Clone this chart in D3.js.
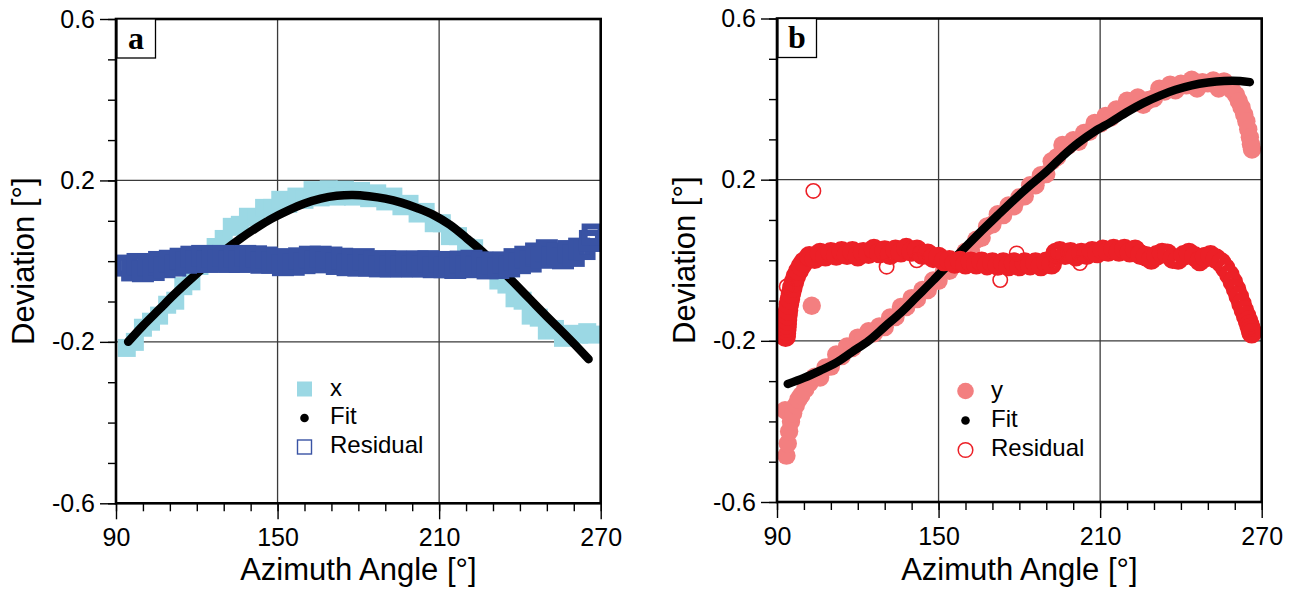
<!DOCTYPE html>
<html><head><meta charset="utf-8">
<script src="https://cdn.jsdelivr.net/npm/d3@7"></script>
<style>body{margin:0;background:#fff}svg{display:block}</style>
</head><body>
<svg id="chart" width="1298" height="589"></svg>
<script>
// ---------- axis definitions ----------
const xTicks = [90, 150, 210, 270];
const xMinorTicks = [90,100,110,120,130,140,150,160,170,180,190,200,210,220,230,240,250,260,270];
const yTicks = [0.6, 0.2, -0.2, -0.6];
const yTickLabels = ["0.6", "0.2", "-0.2", "-0.6"];
const yMinorTicks = [0.6,0.5,0.4,0.3,0.2,0.1,0,-0.1,-0.2,-0.3,-0.4,-0.5,-0.6];
const xGrid = [150, 210];
const yGrid = [0.2, -0.2];
const xTitle = "Azimuth Angle [°]";
const yTitle = "Deviation [°]";

// ---------- panel a ----------
const aXAngle = [94,97,100,103,106,109,112,115,118,121,124,127,130,133,136,139,142,145,148,151,154,157,160,163,166,169,172,175,178,181,184,187,190,193,196,199,202,205,208,211,214,217,220,223,226,229,232,235,238,241,244,247,250,253,256,259,262,265,266.5];
const aXValue = [-0.215,-0.200,-0.165,-0.150,-0.135,-0.108,-0.098,-0.062,-0.050,-0.012,-0.005,0.035,0.055,0.085,0.090,0.110,0.108,0.132,0.132,0.152,0.142,0.160,0.152,0.176,0.158,0.178,0.160,0.177,0.160,0.174,0.156,0.168,0.148,0.160,0.136,0.142,0.118,0.122,0.094,0.094,0.062,0.062,0.034,0.032,-0.002,-0.010,-0.048,-0.058,-0.092,-0.098,-0.135,-0.140,-0.172,-0.168,-0.190,-0.180,-0.182,-0.176,-0.182];

const aFitAngle = [94.5,100,106,112,118,124,130,136,142,148,154,160,166,172,178,184,190,196,202,208,214,220,226,232,238,244,250,256,262,265.5];
const aFitValue = [-0.200,-0.160,-0.120,-0.080,-0.043,-0.008,0.025,0.055,0.082,0.106,0.126,0.143,0.155,0.162,0.164,0.161,0.155,0.145,0.131,0.114,0.090,0.058,0.024,-0.015,-0.055,-0.096,-0.137,-0.177,-0.218,-0.243];

const aResAngle = [94,96,98,100,102,104,106,108,110,112,114,116,118,120,122,124,126,128,130,132,134,136,138,140,142,144,146,148,150,152,154,156,158,160,162,164,166,168,170,172,174,176,178,180,182,184,186,188,190,192,194,196,198,200,202,204,206,208,210,212,214,216,218,220,222,224,226,228,230,232,234,236,238,240,242,244,246,248,250,252,254,256,258,260,262,264,266,267];
const aResValue = [-0.011,-0.023,-0.007,-0.025,-0.009,-0.022,-0.002,-0.015,0.001,-0.011,0.006,-0.004,0.011,-0.001,0.013,-0.002,0.011,0.001,0.013,-0.002,0.011,-0.002,0.013,0.001,0.012,-0.004,0.009,-0.004,0.005,-0.010,0.003,-0.009,0.007,-0.005,0.011,-0.002,0.011,-0.003,0.009,-0.007,0.006,-0.010,0.003,-0.011,0.005,-0.011,-0.001,-0.013,0.000,-0.013,-0.001,-0.013,-0.001,-0.013,-0.001,-0.013,0.000,-0.015,-0.002,-0.015,-0.003,-0.017,-0.001,-0.013,0.001,-0.015,-0.003,-0.018,-0.005,-0.017,-0.003,-0.013,0.005,-0.005,0.011,-0.001,0.019,0.009,0.027,0.009,0.019,0.007,0.025,0.013,0.031,0.030,0.050,0.066];

// ---------- panel b ----------
const bYAngle = [93.0,93.5,94.0,94.5,95.2,96.0,97,98,99,100.5,102,102.9,104,106,108,110,112,114,116,118,120,122,124,126,128,130,132,134,136,138,140,142,144,146,148,150,152,154,156,158,160,162,164,166,168,170,172,174,176,178,180,182,184,186,188,190,192,194,196,198,200,202,204,206,208,210,212,214,216,218,220,222,224,226,228,230,232,234,236,238,240,242,244,246,248,250,252,254,256,257.5,259,260.5,261.5,262.5,263.5,264.3,265,265.6,266,266.4];
const bYValue = [-0.372,-0.485,-0.455,-0.425,-0.400,-0.380,-0.360,-0.345,-0.335,-0.320,-0.305,-0.113,-0.289,-0.291,-0.266,-0.264,-0.234,-0.238,-0.214,-0.218,-0.192,-0.194,-0.176,-0.181,-0.164,-0.166,-0.142,-0.141,-0.116,-0.116,-0.094,-0.096,-0.074,-0.074,-0.050,-0.051,-0.026,-0.026,-0.004,-0.004,0.021,0.024,0.051,0.056,0.084,0.089,0.114,0.112,0.136,0.134,0.156,0.159,0.186,0.186,0.211,0.214,0.246,0.256,0.286,0.284,0.298,0.294,0.316,0.319,0.341,0.339,0.358,0.354,0.374,0.374,0.396,0.390,0.404,0.386,0.398,0.402,0.426,0.419,0.436,0.422,0.438,0.434,0.448,0.426,0.442,0.439,0.446,0.426,0.444,0.432,0.422,0.410,0.395,0.380,0.362,0.345,0.325,0.305,0.288,0.275];

const bFitAngle = [94,100,106,112,118,124,130,136,142,148,154,160,166,172,178,184,190,196,202,208,214,220,226,232,238,244,250,256,262,265.6];
const bFitValue = [-0.307,-0.292,-0.274,-0.254,-0.227,-0.200,-0.165,-0.130,-0.090,-0.050,-0.008,0.033,0.073,0.112,0.150,0.186,0.220,0.258,0.292,0.320,0.343,0.368,0.390,0.408,0.423,0.434,0.441,0.445,0.445,0.442];

// residual, dense part of the cloud
const bResAngle = [93.2,93.3,93.4,93.5,93.6,93.7,93.9,94.1,94.4,94.8,95.2,95.7,96.3,97,98,99,100,102,104,106,108,110,112,114,116,118,120,122,124,126,128,130,132,134,136,138,140,142,144,146,148,150,152,154,156,158,160,162,164,166,168,170,172,174,176,178,180,182,184,186,188,190,192,193.5,195,197,199,201,203,205,207,209,211,213,215,217,219,221,223,225,227,229,231,233,235,237,239,241,243,245,247,249,251,253,255,256.5,258,259.3,260.5,261.5,262.5,263.4,264.2,264.9,265.4,265.8,266.1,266.3];
const bResValue = [-0.190,-0.182,-0.174,-0.166,-0.158,-0.148,-0.136,-0.124,-0.110,-0.096,-0.082,-0.068,-0.054,-0.040,-0.026,-0.014,-0.004,0.010,0.004,0.018,0.010,0.020,0.012,0.022,0.014,0.022,0.010,0.020,0.016,0.028,0.018,0.024,0.014,0.026,0.020,0.030,0.022,0.026,0.014,0.016,0.006,0.008,-0.002,0.000,-0.008,-0.002,-0.010,-0.004,-0.010,-0.004,-0.012,-0.006,-0.013,-0.006,-0.014,-0.006,-0.014,-0.006,-0.012,-0.006,-0.014,-0.004,-0.010,0.018,0.022,0.014,0.020,0.010,0.018,0.014,0.022,0.018,0.026,0.022,0.028,0.022,0.028,0.020,0.026,0.014,0.010,0.002,0.012,0.018,0.016,0.004,0.002,0.012,0.018,0.010,-0.002,0.008,0.012,0.004,-0.006,-0.020,-0.036,-0.054,-0.072,-0.090,-0.108,-0.124,-0.138,-0.150,-0.160,-0.168,-0.175,-0.181];
// residual, isolated points
const bResOutAngle = [93.6,103.5,130.7,141.9,172.9,179,193.8,202.5];
const bResOutValue = [-0.065,0.172,-0.016,0.000,-0.049,0.017,0.017,-0.007];

// ---------- drawing ----------
const W = 1298, H = 589;
const FONT = '"Liberation Sans", Arial, Helvetica, sans-serif';
const svg = d3.select("#chart");
svg.append("rect").attr("width", W).attr("height", H).attr("fill", "#fff");
const defs = svg.append("defs");

const panels = [
  { id: "a", left: 116, top: 19, right: 600.7, bottom: 503.3,
    dataA: aXAngle, dataV: aXValue, fitA: aFitAngle, fitV: aFitValue,
    resA: aResAngle, resV: aResValue, outA: [], outV: [],
    shape: "square", dataColor: "#9bd8e4", resColor: "#3953a4", dataName: "x",
    legendRows: [389, 418, 447] },
  { id: "b", left: 777, top: 18.5, right: 1261.7, bottom: 502,
    dataA: bYAngle, dataV: bYValue, fitA: bFitAngle, fitV: bFitValue,
    resA: bResAngle, resV: bResValue, outA: bResOutAngle, outV: bResOutValue,
    shape: "circle", dataColor: "#f37f80", resColor: "#ec2027", dataName: "y",
    legendRows: [391, 420.5, 450] }
];

panels.forEach(p => {
  const x = d3.scaleLinear().domain([90, 270]).range([p.left, p.right]);
  const y = d3.scaleLinear().domain([-0.6, 0.6]).range([p.bottom, p.top]);
  const g = svg.append("g");

  // grid
  g.selectAll(".vg").data(xGrid).join("line")
    .attr("x1", d => x(d)).attr("x2", d => x(d)).attr("y1", p.top).attr("y2", p.bottom)
    .attr("stroke", "#3a3a3a").attr("stroke-width", 1.3);
  g.selectAll(".hg").data(yGrid).join("line")
    .attr("y1", d => y(d)).attr("y2", d => y(d)).attr("x1", p.left).attr("x2", p.right)
    .attr("stroke", "#3a3a3a").attr("stroke-width", 1.3);

  // clip
  defs.append("clipPath").attr("id", "clip" + p.id).append("rect")
    .attr("x", p.left).attr("y", p.top).attr("width", p.right - p.left).attr("height", p.bottom - p.top);
  const plot = g.append("g").attr("clip-path", `url(#clip${p.id})`);

  const dataPts = p.dataA.map((a, i) => ({ a, v: p.dataV[i] }));
  const fitPts = p.fitA.map((a, i) => ({ a, v: p.fitV[i] }));
  const resPts = p.resA.map((a, i) => ({ a, v: p.resV[i] }));
  const outPts = p.outA.map((a, i) => ({ a, v: p.outV[i] }));

  // measured data
  if (p.shape === "square") {
    const s = 18;
    plot.selectAll(".dm").data(dataPts).join("rect")
      .attr("x", d => x(d.a) - s / 2).attr("y", d => y(d.v) - s / 2)
      .attr("width", s).attr("height", s).attr("fill", p.dataColor);
  } else {
    plot.selectAll(".dm").data(dataPts).join("circle")
      .attr("cx", d => x(d.a)).attr("cy", d => y(d.v)).attr("r", 9.2).attr("fill", p.dataColor);
  }

  // fit
  const line = d3.line().x(d => x(d.a)).y(d => y(d.v)).curve(d3.curveCatmullRom);
  plot.append("path").datum(fitPts).attr("d", line)
    .attr("fill", "none").attr("stroke", "#000").attr("stroke-width", 8.5)
    .attr("stroke-linecap", "round").attr("stroke-linejoin", "round");

  // residual (dense cloud: overlapping outlines read as a solid band)
  if (p.shape === "square") {
    const s = 16;
    plot.selectAll(".rm").data(resPts).join("rect")
      .attr("x", d => x(d.a) - s / 2).attr("y", d => y(d.v) - s / 2)
      .attr("width", s).attr("height", s).attr("fill", "none")
      .attr("stroke", p.resColor).attr("stroke-width", 6);
  } else {
    plot.selectAll(".rm").data(resPts).join("circle")
      .attr("cx", d => x(d.a)).attr("cy", d => y(d.v)).attr("r", 7)
      .attr("fill", "none").attr("stroke", p.resColor).attr("stroke-width", 6.6);
    plot.selectAll(".ro").data(outPts).join("circle")
      .attr("cx", d => x(d.a)).attr("cy", d => y(d.v)).attr("r", 7.2)
      .attr("fill", "none").attr("stroke", p.resColor).attr("stroke-width", 1.6);
  }

  // frame
  g.append("rect").attr("x", p.left).attr("y", p.top)
    .attr("width", p.right - p.left).attr("height", p.bottom - p.top)
    .attr("fill", "none").attr("stroke", "#000").attr("stroke-width", 2.6);

  // axes
  const styleAxis = sel => {
    sel.select(".domain").remove();
    sel.selectAll(".tick line").attr("stroke", "#000").attr("stroke-width", 1.4);
    sel.selectAll(".tick text").attr("fill", "#000").attr("font-size", 25).attr("font-family", FONT);
  };
  g.append("g").attr("transform", `translate(0,${p.bottom})`)
    .call(d3.axisBottom(x).tickValues(xMinorTicks).tickSize(8).tickFormat("")).call(styleAxis);
  g.append("g").attr("transform", `translate(0,${p.bottom})`)
    .call(d3.axisBottom(x).tickValues(xTicks).tickSize(16).tickPadding(9).tickFormat(d => d)).call(styleAxis);
  g.append("g").attr("transform", `translate(${p.left},0)`)
    .call(d3.axisLeft(y).tickValues(yMinorTicks).tickSize(8).tickFormat("")).call(styleAxis);
  g.append("g").attr("transform", `translate(${p.left},0)`)
    .call(d3.axisLeft(y).tickValues(yTicks).tickSize(16).tickPadding(5)
      .tickFormat((d, i) => yTickLabels[i])).call(styleAxis);

  // axis titles
  g.append("text").attr("x", (p.left + p.right) / 2).attr("y", 580)
    .attr("text-anchor", "middle").attr("font-size", 31).attr("font-family", FONT).text(xTitle);
  g.append("text").attr("transform", `translate(${p.left - 82.5},${(p.top + p.bottom) / 2}) rotate(-90)`)
    .attr("text-anchor", "middle").attr("font-size", 31).attr("font-family", FONT).text(yTitle);

  // panel label
  g.append("rect").attr("x", p.left + 1).attr("y", p.top).attr("width", 38.5).attr("height", 39)
    .attr("fill", "#fff").attr("stroke", "#000").attr("stroke-width", 1.3);
  g.append("text").attr("x", p.left + 20).attr("y", p.top + 29.5).attr("text-anchor", "middle")
    .attr("font-size", 32).attr("font-weight", "bold")
    .attr("font-family", '"Liberation Serif", "Times New Roman", serif').text(p.id);

  // legend
  const lx = p.left + 188.5, tx = p.left + 214;
  const [r1, r2, r3] = p.legendRows;
  if (p.shape === "square") {
    g.append("rect").attr("x", lx - 7.5).attr("y", r1 - 7.5).attr("width", 15).attr("height", 15).attr("fill", p.dataColor);
    g.append("rect").attr("x", lx - 7).attr("y", r3 - 7).attr("width", 14).attr("height", 14)
      .attr("fill", "none").attr("stroke", p.resColor).attr("stroke-width", 1.4);
  } else {
    g.append("circle").attr("cx", lx).attr("cy", r1).attr("r", 8.3).attr("fill", p.dataColor);
    g.append("circle").attr("cx", lx).attr("cy", r3).attr("r", 7.3)
      .attr("fill", "none").attr("stroke", p.resColor).attr("stroke-width", 1.5);
  }
  g.append("circle").attr("cx", lx).attr("cy", r2).attr("r", 4.3).attr("fill", "#000");
  [[p.dataName, r1 - 1], ["Fit", r2 - 2], ["Residual", r3 - 2]].forEach(([t, ry]) => {
    g.append("text").attr("x", tx).attr("y", ry).attr("dy", "0.35em")
      .attr("font-size", 24).attr("font-family", FONT).text(t);
  });
});
</script>
</body></html>
